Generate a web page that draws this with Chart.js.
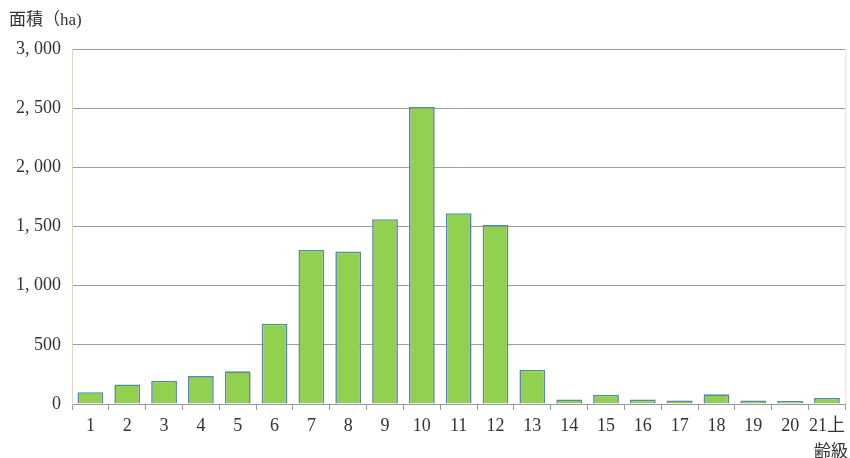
<!DOCTYPE html>
<html>
<head>
<meta charset="utf-8">
<script src="https://cdn.jsdelivr.net/npm/chart.js@4"></script>
<style>
  html, body { margin: 0; padding: 0; background: #fff; }
  #wrap { position: relative; width: 850px; height: 458px; }
  canvas { position: absolute; left: 0; top: 0; }
  .lbl { position: absolute; font-family: "Liberation Serif", "Noto Sans CJK JP", serif; font-size: 17px; color: #333; white-space: nowrap; }
</style>
</head>
<body>
<div id="wrap">
  <canvas id="c" width="850" height="458"></canvas>
  <div class="lbl" style="left:9px; top:5px;">面積（ha)</div>
  <div class="lbl" style="left:814px; top:437px;">齢級</div>
</div>
<script>
const categories = ["1","2","3","4","5","6","7","8","9","10","11","12","13","14","15","16","17","18","19","20","21上"];
const areaValues = [100,165,195,236,276,678,1302,1288,1562,2510,1612,1512,290,38,77,37,30,82,30,26,51];
const yTickValues = [0,500,1000,1500,2000,2500,3000];

const frame = {
  id: 'frame',
  afterDatasetsDraw(chart) {
    const a = chart.chartArea, ctx = chart.ctx;
    ctx.save();
    ctx.strokeStyle = '#E6E2C8';
    ctx.lineWidth = 1;
    ctx.beginPath();
    ctx.moveTo(a.right + 0.5, a.top);
    ctx.lineTo(a.right + 0.5, a.bottom);
    ctx.stroke();
    ctx.restore();
  }
};

const fmt = v => v < 1000 ? String(v) : Math.floor(v / 1000) + ', ' + String(v % 1000).padStart(3, '0');

new Chart(document.getElementById('c'), {
  type: 'bar',
  data: {
    labels: categories,
    datasets: [{
      data: areaValues,
      backgroundColor: '#92D050',
      borderColor: '#5A84B6',
      borderWidth: 1.6,
      categoryPercentage: 1,
      barPercentage: 0.7
    }]
  },
  options: {
    responsive: false,
    animation: false,
    layout: { padding: { left: 0, top: 49, right: 2, bottom: 0 } },
    plugins: { legend: { display: false }, tooltip: { enabled: false } },
    scales: {
      x: {
        offset: true,
        grid: { display: true, offset: true, drawOnChartArea: false, drawTicks: true, tickLength: 6, color: '#9A9A9A' },
        border: { color: '#9A9A9A', width: 1 },
        ticks: { color: '#333', font: { family: '"Liberation Serif", "Noto Sans CJK JP", serif', size: 18 }, padding: 5, maxRotation: 0, autoSkip: false },
        afterFit(scale) { scale.height = 54; }
      },
      y: {
        min: 0, max: 3000,
        afterBuildTicks(scale) { scale.ticks = yTickValues.map(v => ({ value: v })); },
        grid: { color: '#9E9E9E', drawTicks: false, lineWidth: 1 },
        border: { color: '#DDD8BC', width: 1 },
        ticks: {
          color: '#333',
          font: { family: '"Liberation Serif", "Noto Sans CJK JP", serif', size: 18 },
          padding: 11,
          callback: v => fmt(v)
        },
        afterFit(scale) { scale.width = 72; }
      }
    }
  },
  plugins: [frame]
});
</script>
</body>
</html>
